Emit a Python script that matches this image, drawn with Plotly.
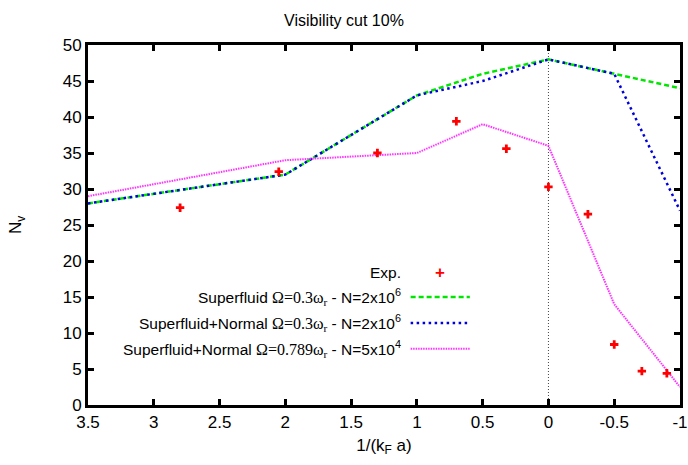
import plotly.graph_objects as go

# ---- data ----
exp_x = [2.80, 2.05, 1.30, 0.70, 0.32, 0.0, -0.30, -0.50, -0.71, -0.90]
exp_y = [27.4, 32.4, 35.0, 39.4, 35.6, 30.3, 26.5, 8.4, 4.7, 4.4]

sf_x = [3.5, 2.0, 1.0, 0.5, 0.0, -0.5, -1.0]
sf_y = [28.0, 32.0, 43.0, 46.0, 48.0, 46.0, 44.0]

sfn_x = [3.5, 2.0, 1.0, 0.5, 0.0, -0.5, -1.0]
sfn_y = [28.0, 32.0, 43.0, 45.0, 48.0, 46.0, 27.0]

sfn2_x = [3.5, 2.0, 1.0, 0.5, 0.0, -0.5, -1.0]
sfn2_y = [29.0, 34.0, 35.0, 39.0, 36.0, 14.0, 2.5]

x_ticks = [3.5, 3, 2.5, 2, 1.5, 1, 0.5, 0, -0.5, -1]
x_tick_labels = ["3.5", "3", "2.5", "2", "1.5", "1", "0.5", "0", "-0.5", "-1"]
y_ticks = [0, 5, 10, 15, 20, 25, 30, 35, 40, 45, 50]

serif = "font-family:Liberation Serif, DejaVu Serif, serif;font-size:16px"
legend_labels = [
    "Exp.",
    f"Superfluid <span style=\"{serif}\">Ω=0.3ω<sub>r</sub></span> - N=2x10<sup>6</sup>",
    f"Superfluid+Normal <span style=\"{serif}\">Ω=0.3ω<sub>r</sub></span> - N=2x10<sup>6</sup>",
    f"Superfluid+Normal <span style=\"{serif}\">Ω=0.789ω<sub>r</sub></span> - N=5x10<sup>4</sup>",
]

GREEN = "#00e600"
BLUE = "#0000dd"
MAGENTA = "#ff33ff"
RED = "#ff0000"

fig = go.Figure()

# vertical reference line at x = 0
fig.add_trace(go.Scatter(x=[0, 0], y=[0, 50], mode="lines",
                         line=dict(color="#444444", width=1, dash="1px,2px"),
                         showlegend=False, hoverinfo="skip"))

fig.add_trace(go.Scatter(x=sf_x, y=sf_y, mode="lines",
                         line=dict(color=GREEN, width=2.5, dash="5px,3px"),
                         showlegend=False))
fig.add_trace(go.Scatter(x=sfn_x, y=sfn_y, mode="lines",
                         line=dict(color=BLUE, width=2.5, dash="2.5px,3.5px"),
                         showlegend=False))
fig.add_trace(go.Scatter(x=sfn2_x, y=sfn2_y, mode="lines",
                         line=dict(color=MAGENTA, width=2, dash="1.5px,1px"),
                         showlegend=False))
fig.add_trace(go.Scatter(x=exp_x, y=exp_y, mode="markers",
                         marker=dict(symbol="cross", size=7, color=RED,
                                     line=dict(width=0)),
                         showlegend=False))

# ---- manual legend (text right-aligned, sample on the right) ----
leg_y = [0.369, 0.30, 0.228, 0.156]
text_x = 0.532
samp_x0, samp_x1 = 0.545, 0.645
styles = [None,
          dict(color=GREEN, width=2.5, dash="5px,3px"),
          dict(color=BLUE, width=2.5, dash="2.5px,3.5px"),
          dict(color=MAGENTA, width=2, dash="1.5px,1px")]
annotations = []
shapes = []
for lbl, yy, st in zip(legend_labels, leg_y, styles):
    annotations.append(dict(x=text_x, y=yy, xref="paper", yref="paper",
                            text=lbl, showarrow=False, xanchor="right",
                            yanchor="middle",
                            font=dict(size=15.5, color="black",
                                      family="Liberation Sans, Arial, sans-serif")))
    if st is None:
        annotations.append(dict(x=(samp_x0 + samp_x1) / 2, y=yy, xref="paper",
                                yref="paper", text="<b>+</b>", showarrow=False,
                                xanchor="center", yanchor="middle",
                                font=dict(size=17, color=RED,
                                          family="Liberation Sans, Arial")))
    else:
        shapes.append(dict(type="line", xref="paper", yref="paper",
                           x0=samp_x0, x1=samp_x1, y0=yy, y1=yy, line=st))

fig.update_layout(
    width=688, height=465,
    margin=dict(l=88, r=8, t=45, b=60, autoexpand=False),
    paper_bgcolor="white", plot_bgcolor="white",
    font=dict(family="Liberation Sans, Arial, sans-serif", size=17, color="black"),
    title=dict(text="Visibility cut 10%", x=0.5, xanchor="center",
               y=0.957, yanchor="middle", font=dict(size=16)),
    annotations=annotations,
    shapes=shapes,
    showlegend=False,
)

fig.update_xaxes(range=[3.5, -1], tickvals=x_ticks, ticktext=x_tick_labels,
                 automargin=False, ticklabeloverflow="allow",
                 showgrid=False, zeroline=False,
                 showline=True, linewidth=3, linecolor="black", mirror="ticks",
                 ticks="inside", ticklen=6, tickwidth=3, tickcolor="black",
                 title=dict(text="1/(k<sub>F</sub> a)", standoff=8,
                            font=dict(size=17)))
fig.update_yaxes(range=[0, 50], tickvals=y_ticks,
                 automargin=False, ticklabeloverflow="allow",
                 showgrid=False, zeroline=False,
                 showline=True, linewidth=3, linecolor="black", mirror="ticks",
                 ticks="inside", ticklen=6, tickwidth=3, tickcolor="black",
                 title=dict(text="N<sub>v</sub>", standoff=37,
                            font=dict(size=17)))

fig.write_html("out.html",
               config={"displayModeBar": False},
               post_script="document.body.style.margin='0';"
                           "document.body.style.overflow='hidden';")
